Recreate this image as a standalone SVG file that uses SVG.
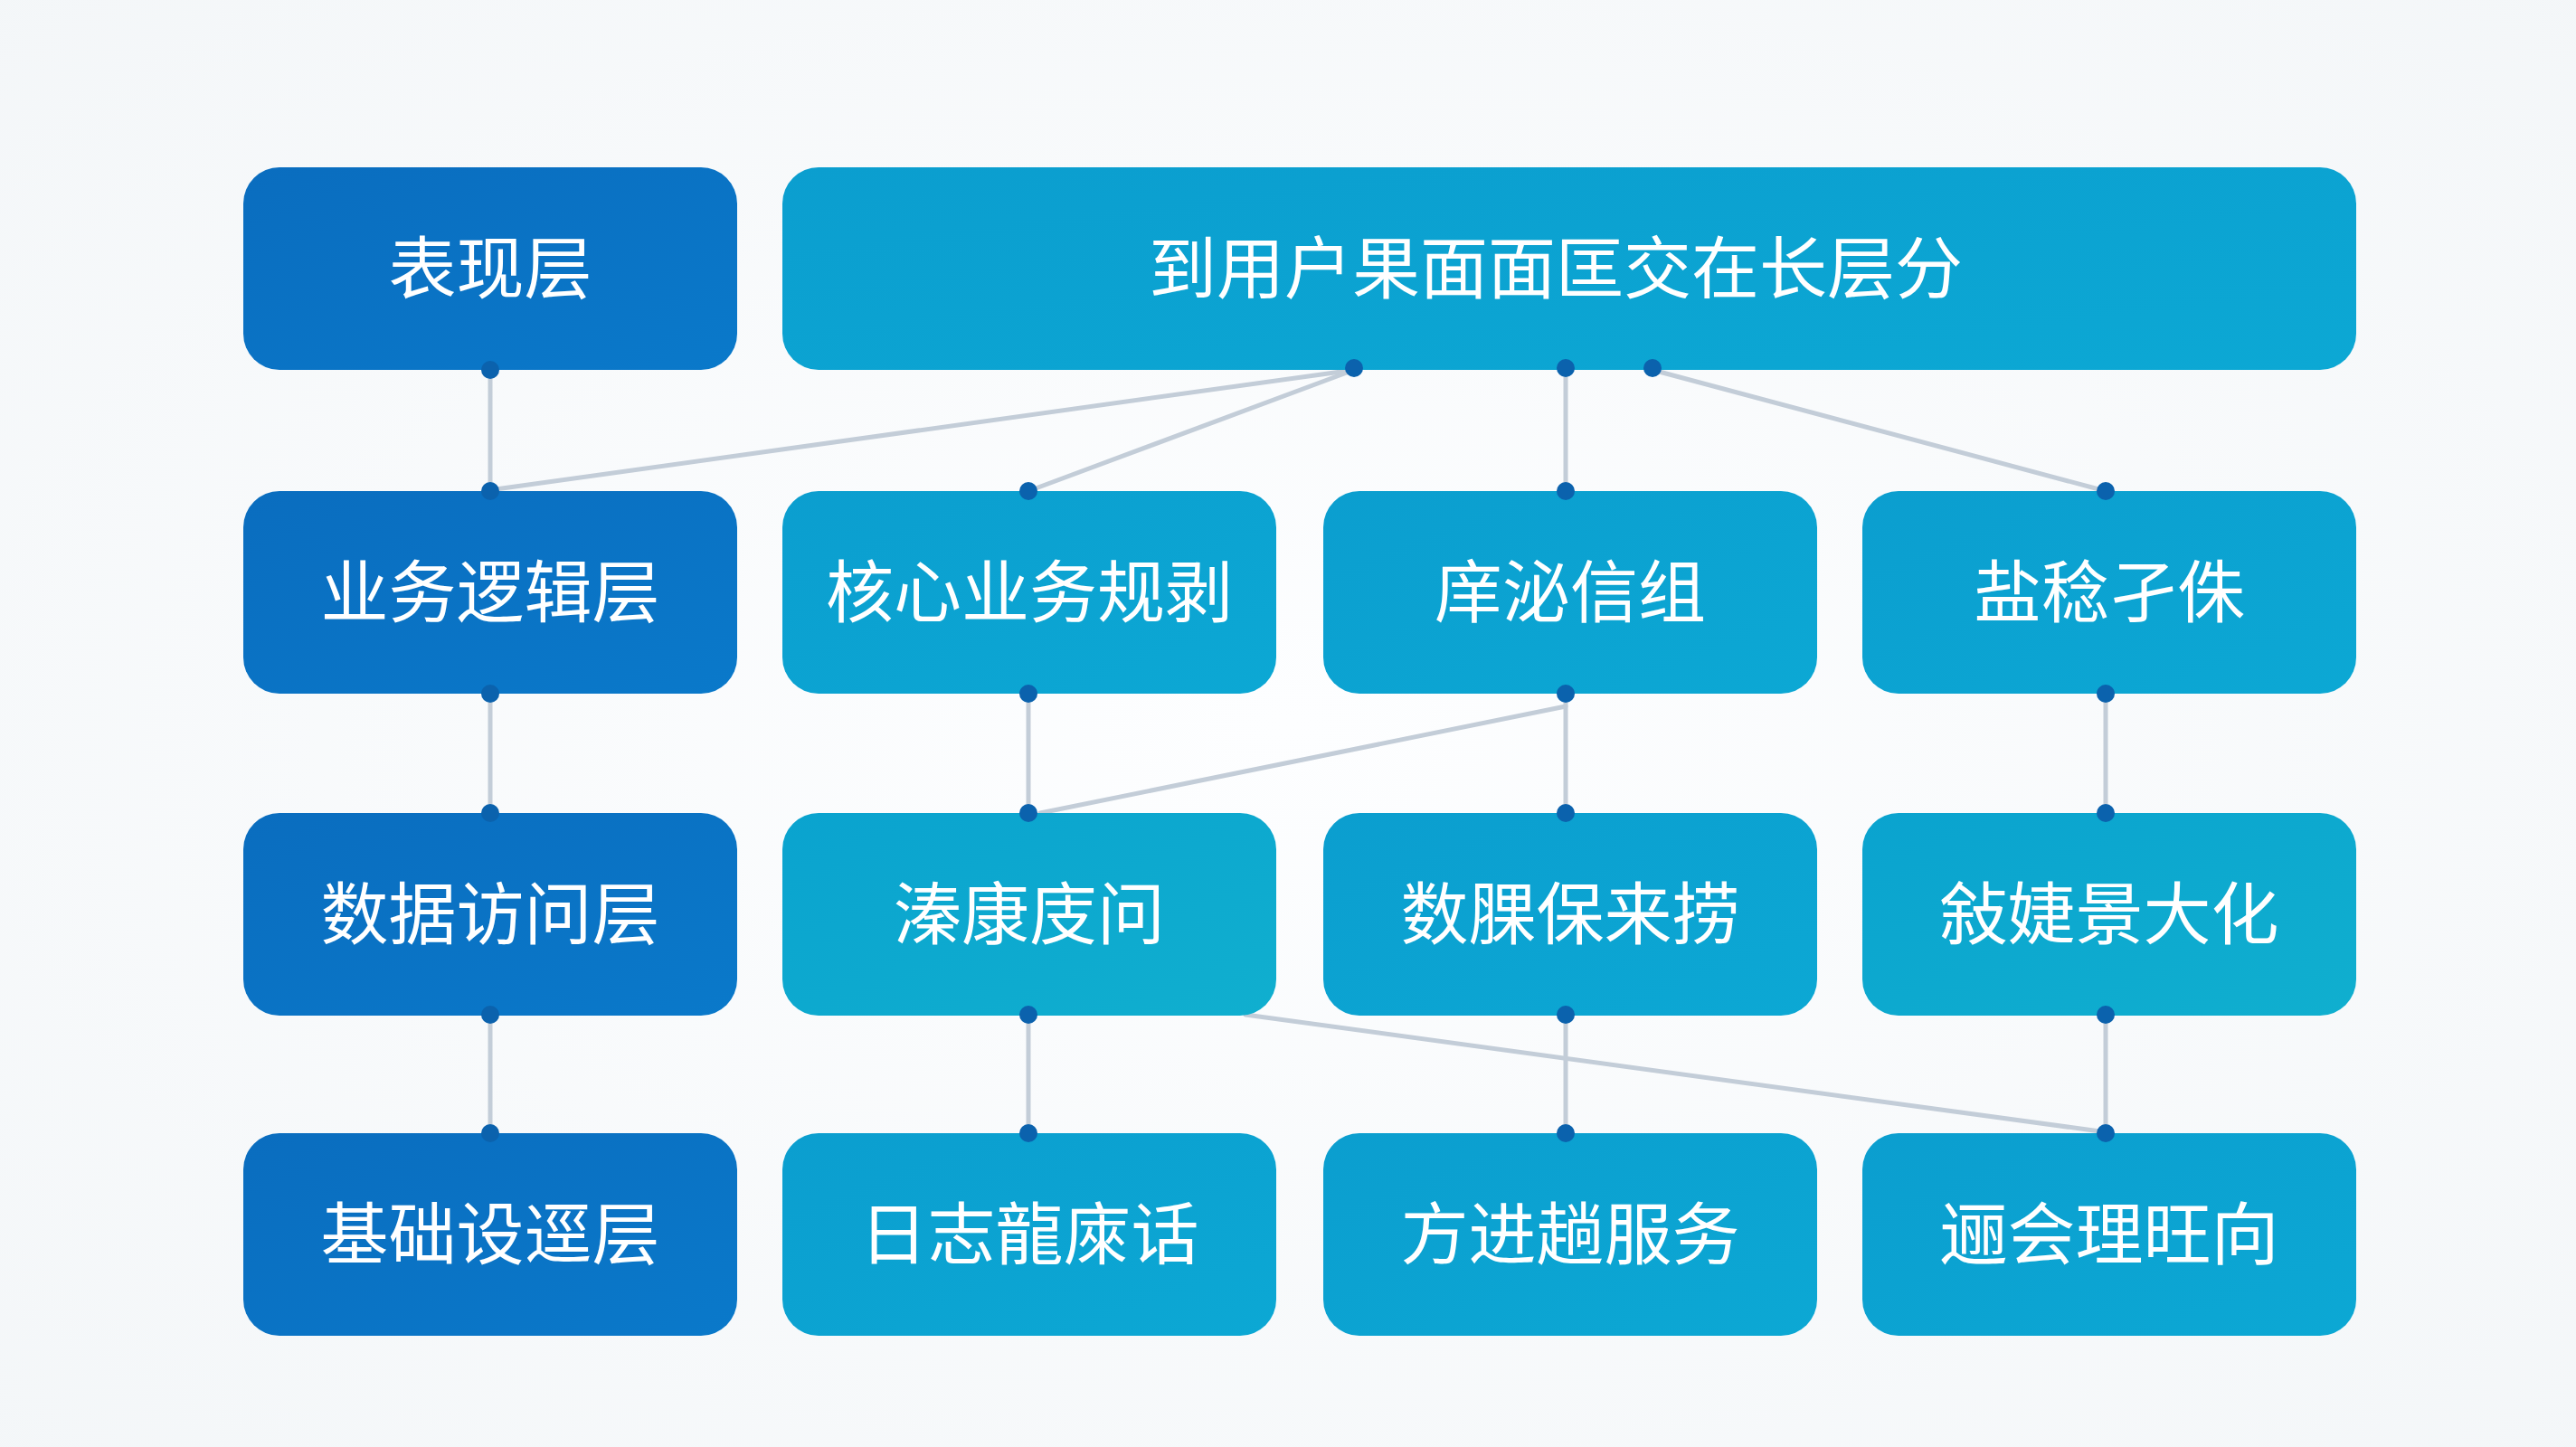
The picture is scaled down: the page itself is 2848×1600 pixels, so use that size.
<svg xmlns="http://www.w3.org/2000/svg" width="2848" height="1600" viewBox="0 0 2848 1600">
<defs>
<radialGradient id="bg" cx="50%" cy="50%" r="75%">
<stop offset="0" stop-color="#fdfeff"/>
<stop offset="1" stop-color="#f3f6f8"/>
</radialGradient>
<linearGradient id="dark" x1="0" y1="0" x2="1" y2="1">
<stop offset="0" stop-color="#0a6dbf"/>
<stop offset="1" stop-color="#0a79ca"/>
</linearGradient>
<linearGradient id="light" x1="0" y1="0" x2="1" y2="1">
<stop offset="0" stop-color="#0b9ecf"/>
<stop offset="1" stop-color="#0ca8d4"/>
</linearGradient>
<linearGradient id="teal" x1="0" y1="0" x2="1" y2="1">
<stop offset="0" stop-color="#0aa3cf"/>
<stop offset="1" stop-color="#10afcf"/>
</linearGradient>
<style>
.d{fill:url(#dark)}
.l{fill:url(#light)}
.t{fill:url(#teal)}
text{font-family:"Noto Sans CJK SC","Noto Sans",sans-serif;font-size:75px;fill:#ffffff;text-anchor:middle;dominant-baseline:central}
.c line{stroke:#c3cdd8;stroke-width:5;stroke-linecap:round}
.dot{fill:#0b62ad}
</style>
</defs>
<rect width="2848" height="1600" fill="url(#bg)"/>
<g class="c" id="connectors">
<line x1="542" y1="409" x2="542" y2="543"/>
<line x1="1497" y1="409" x2="548" y2="541"/>
<line x1="1497" y1="409" x2="1137" y2="543"/>
<line x1="1731" y1="409" x2="1731" y2="543"/>
<line x1="1827" y1="409" x2="2328" y2="543"/>
<line x1="542" y1="767" x2="542" y2="899"/>
<line x1="1137" y1="767" x2="1137" y2="899"/>
<line x1="1731" y1="767" x2="1731" y2="899"/>
<line x1="1731" y1="781" x2="1150" y2="899"/>
<line x1="2328" y1="767" x2="2328" y2="899"/>
<line x1="542" y1="1122" x2="542" y2="1253"/>
<line x1="1137" y1="1122" x2="1137" y2="1253"/>
<line x1="1731" y1="1122" x2="1731" y2="1253"/>
<line x1="2328" y1="1122" x2="2328" y2="1253"/>
<line x1="1377" y1="1122" x2="2322" y2="1251"/>
</g>
<g id="n-top-left"><rect class="d" x="269" y="185" width="546" height="224" rx="40"/><text x="542" y="291">表现层</text></g>
<g id="n-top-wide"><rect class="l" x="865" y="185" width="1740" height="224" rx="40"/><text x="1720" y="291">到用户果面面匡交在长层分</text></g>
<g id="n-r2c1"><rect class="d" x="269" y="543" width="546" height="224" rx="40"/><text x="542" y="649">业务逻辑层</text></g>
<g id="n-r2c2"><rect class="l" x="865" y="543" width="546" height="224" rx="40"/><text x="1138" y="649">核心业务规剥</text></g>
<g id="n-r2c3"><rect class="l" x="1463" y="543" width="546" height="224" rx="40"/><text x="1736" y="649">庠泌信组</text></g>
<g id="n-r2c4"><rect class="l" x="2059" y="543" width="546" height="224" rx="40"/><text x="2332" y="649">盐稔孑侏</text></g>
<g id="n-r3c1"><rect class="d" x="269" y="899" width="546" height="224" rx="40"/><text x="542" y="1005">数据访问层</text></g>
<g id="n-r3c2"><rect class="t" x="865" y="899" width="546" height="224" rx="40"/><text x="1138" y="1005">溱康庋问</text></g>
<g id="n-r3c3"><rect class="l" x="1463" y="899" width="546" height="224" rx="40"/><text x="1736" y="1005">数腂保来捞</text></g>
<g id="n-r3c4"><rect class="t" x="2059" y="899" width="546" height="224" rx="40"/><text x="2332" y="1005">敍婕景大化</text></g>
<g id="n-r4c1"><rect class="d" x="269" y="1253" width="546" height="224" rx="40"/><text x="542" y="1359">基础设逕层</text></g>
<g id="n-r4c2"><rect class="l" x="865" y="1253" width="546" height="224" rx="40"/><text x="1138" y="1359">日志龍庲话</text></g>
<g id="n-r4c3"><rect class="l" x="1463" y="1253" width="546" height="224" rx="40"/><text x="1736" y="1359">方进趟服务</text></g>
<g id="n-r4c4"><rect class="l" x="2059" y="1253" width="546" height="224" rx="40"/><text x="2332" y="1359">逦会理旺向</text></g>
<g id="dots">
<circle class="dot" cx="542" cy="409" r="10"/>
<circle class="dot" cx="1497" cy="407" r="10"/>
<circle class="dot" cx="1731" cy="407" r="10"/>
<circle class="dot" cx="1827" cy="407" r="10"/>
<circle class="dot" cx="542" cy="543" r="10"/>
<circle class="dot" cx="1137" cy="543" r="10"/>
<circle class="dot" cx="1731" cy="543" r="10"/>
<circle class="dot" cx="2328" cy="543" r="10"/>
<circle class="dot" cx="542" cy="767" r="10"/>
<circle class="dot" cx="1137" cy="767" r="10"/>
<circle class="dot" cx="1731" cy="767" r="10"/>
<circle class="dot" cx="2328" cy="767" r="10"/>
<circle class="dot" cx="542" cy="899" r="10"/>
<circle class="dot" cx="1137" cy="899" r="10"/>
<circle class="dot" cx="1731" cy="899" r="10"/>
<circle class="dot" cx="2328" cy="899" r="10"/>
<circle class="dot" cx="542" cy="1122" r="10"/>
<circle class="dot" cx="1137" cy="1122" r="10"/>
<circle class="dot" cx="1731" cy="1122" r="10"/>
<circle class="dot" cx="2328" cy="1122" r="10"/>
<circle class="dot" cx="542" cy="1253" r="10"/>
<circle class="dot" cx="1137" cy="1253" r="10"/>
<circle class="dot" cx="1731" cy="1253" r="10"/>
<circle class="dot" cx="2328" cy="1253" r="10"/>
</g>
</svg>
